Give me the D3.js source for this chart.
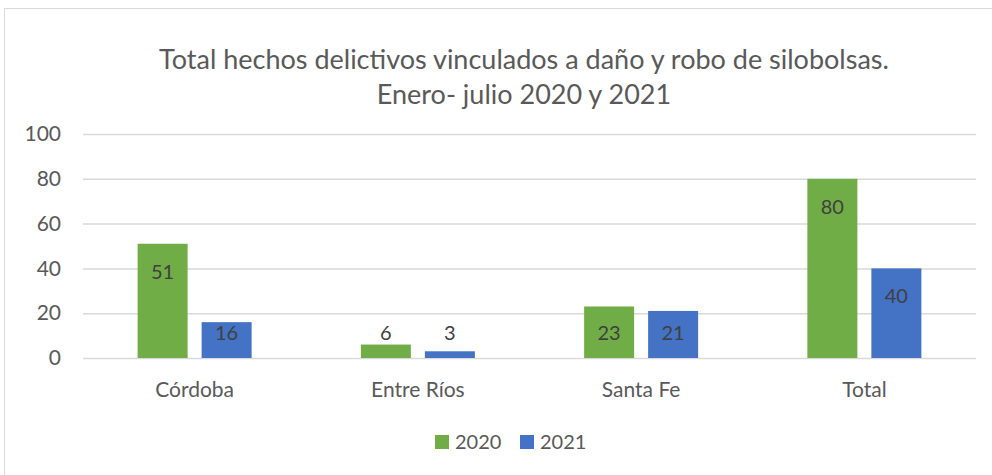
<!DOCTYPE html>
<html><head><meta charset="utf-8">
<script src="https://cdn.jsdelivr.net/npm/d3@7/dist/d3.min.js"></script>
<style>html,body{margin:0;padding:0;background:#fff;}svg{display:block;font-family:Lato,"Open Sans",sans-serif;}</style>
</head><body>
<svg id="c" width="992" height="475"></svg>
<script>
const titleLines = ["Total hechos delictivos vinculados a daño y robo de silobolsas.", "Enero- julio 2020 y 2021"];
const categories = ["Córdoba", "Entre Ríos", "Santa Fe", "Total"];
const seriesNames = ["2020", "2021"];
const values2020 = [51, 6, 23, 80];
const values2021 = [16, 3, 21, 40];
const yTicks = [0, 20, 40, 60, 80, 100];
const colors = ["#70AD47", "#4472C4"];

const svg = d3.select("#c");
const plot = {left: 83, right: 976, top: 134, bottom: 358};
const series = [values2020, values2021];

svg.append("rect").attr("x", 4.5).attr("y", 8.5).attr("width", 1100).attr("height", 500)
  .attr("fill", "#fff").attr("stroke", "#D9D9D9").attr("stroke-width", 1);

// title
svg.append("g").selectAll("text").data(titleLines).join("text")
  .attr("x", 524).attr("y", (d, i) => 60 + i * 35).attr("dy", "0.35em")
  .attr("text-anchor", "middle").attr("font-size", 27).attr("fill", "#595959").text(d => d);

const y = d3.scaleLinear().domain([0, 100]).range([plot.bottom, plot.top]);
const x0 = d3.scaleBand().domain(categories).range([plot.left, plot.right]).padding(0);
const groupW = 114;
const x1 = d3.scaleBand().domain(seriesNames).range([0, groupW]).paddingInner(14 / 64).paddingOuter(0);

// gridlines
const yAxis = d3.axisLeft(y).tickValues(yTicks).tickSize(-(plot.right - plot.left)).tickPadding(22);
const ga = svg.append("g").attr("transform", `translate(${plot.left},0)`).call(yAxis);
ga.select(".domain").remove();
ga.selectAll(".tick line").attr("stroke", "#D9D9D9").attr("stroke-width", 1.5);
ga.selectAll(".tick text").attr("fill", "#595959").attr("font-size", 21).attr("font-family", "Lato, sans-serif");

// x axis labels
const xa = d3.axisBottom(x0).tickSize(0).tickPadding(24);
const gx = svg.append("g").attr("transform", `translate(0,${plot.bottom})`).call(xa);
gx.select(".domain").remove();
gx.selectAll(".tick text").attr("fill", "#595959").attr("font-size", 21).attr("font-family", "Lato, sans-serif");

// bars
const rows = [];
categories.forEach((c, ci) => series.forEach((s, si) => rows.push({c, s: seriesNames[si], si, v: s[ci]})));
const bx = d => x0(d.c) + (x0.bandwidth() - groupW) / 2 + x1(d.s);
svg.append("g").selectAll("rect").data(rows).join("rect")
  .attr("x", bx).attr("y", d => y(d.v)).attr("width", x1.bandwidth())
  .attr("height", d => y(0) - y(d.v)).attr("fill", d => colors[d.si]);

svg.append("g").selectAll("text").data(rows).join("text")
  .attr("x", d => bx(d) + x1.bandwidth() / 2)
  .attr("y", d => Math.min(y(d.v) + 28, y(0) - 25))
  .attr("dy", "0.35em").attr("text-anchor", "middle").attr("font-size", 20)
  .attr("fill", "#404040").text(d => d.v);

// legend
const lg = svg.append("g");
const lx = [435, 520];
seriesNames.forEach((n, i) => {
  lg.append("rect").attr("x", lx[i]).attr("y", 435).attr("width", 14).attr("height", 14).attr("fill", colors[i]);
  lg.append("text").attr("x", lx[i] + 20).attr("y", 442).attr("dy", "0.35em").attr("font-size", 20)
    .attr("fill", "#595959").text(n);
});
</script>
</body></html>
